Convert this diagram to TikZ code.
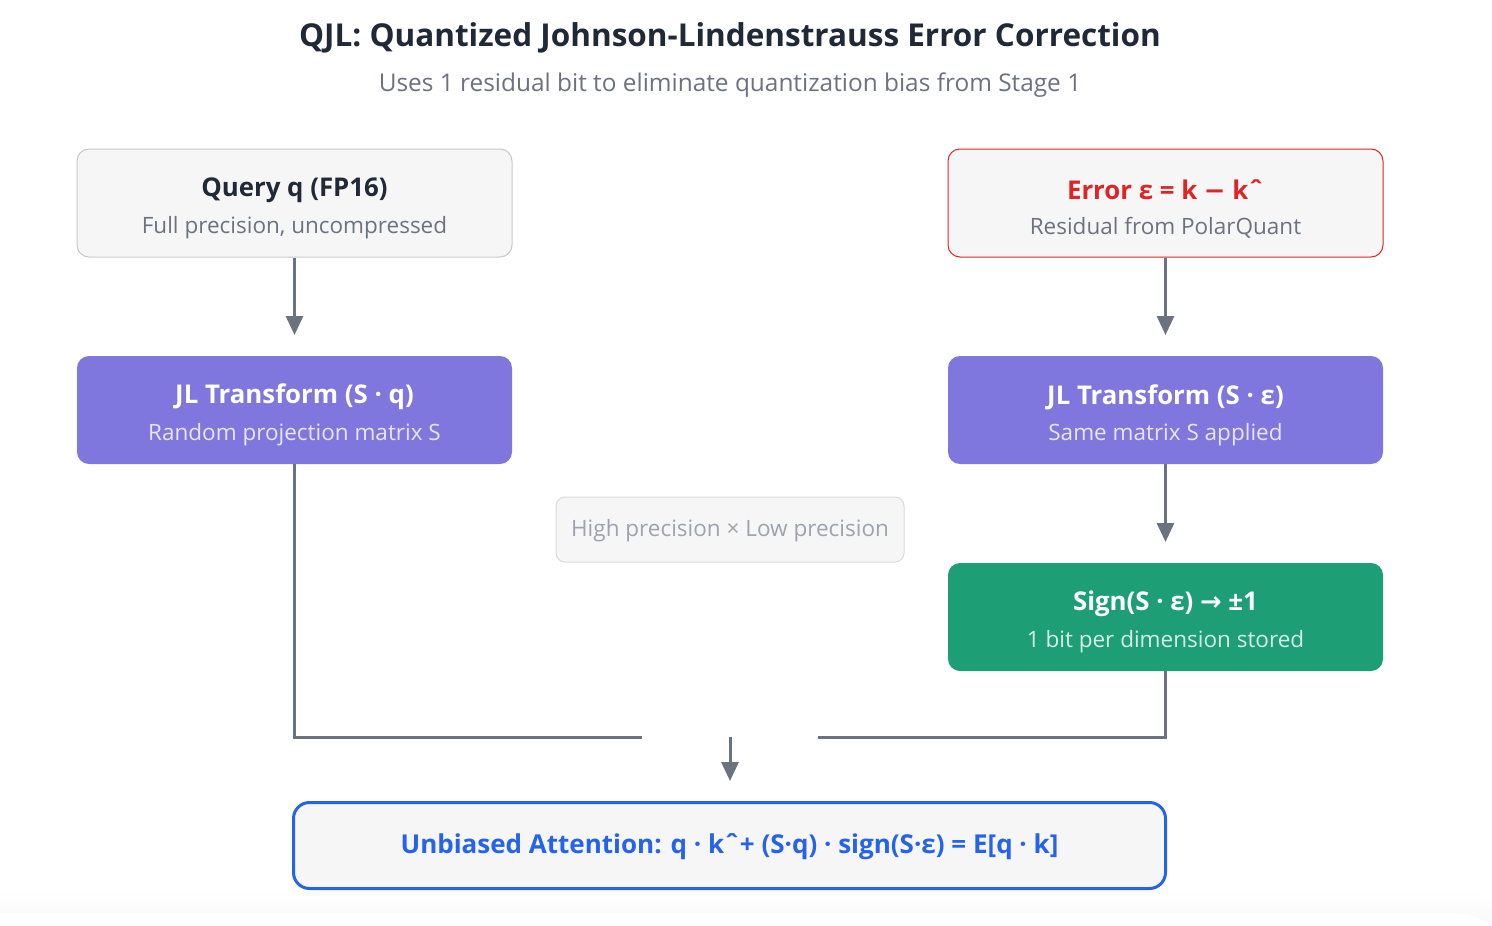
\documentclass[tikz,border=0pt]{standalone}
\usepackage{fontspec}
\setmainfont{Open Sans}
\newfontfamily\dv{DejaVu Sans}
\usetikzlibrary{arrows.meta}
\definecolor{boxfill}{HTML}{F6F6F6}
\definecolor{boxline}{HTML}{C9C9C9}
\definecolor{noteline}{HTML}{DADADA}
\definecolor{darktext}{HTML}{1F2937}
\definecolor{graytext}{HTML}{6B7280}
\definecolor{lighttext}{HTML}{9CA3AF}
\definecolor{purp}{HTML}{7F77DD}
\definecolor{purpsub}{HTML}{E8E6FA}
\definecolor{grn}{HTML}{1D9E75}
\definecolor{grnsub}{HTML}{D6F1E7}
\definecolor{redc}{HTML}{DC2626}
\definecolor{bluec}{HTML}{2563EB}
\definecolor{arrowc}{HTML}{6B7280}
\definecolor{band}{HTML}{F9F9F9}
\tikzset{
  box/.style={rectangle, rounded corners=12pt, minimum width=435pt, minimum height=108pt, inner sep=0pt},
  greybox/.style={box, fill=boxfill, draw=boxline, line width=1pt},
  redbox/.style={box, fill=boxfill, draw=redc, line width=1pt},
  purpbox/.style={box, fill=purp},
  grnbox/.style={box, fill=grn},
  ttl/.style={font=\bfseries\fontsize{25.8}{30}\selectfont, inner sep=0pt},
  sub/.style={font=\fontsize{22.5}{26}\selectfont, inner sep=0pt},
  conn/.style={draw=arrowc, line width=3pt},
  arr/.style={conn, -{Triangle[length=19pt,width=17pt]}},
}
\begin{document}
\begin{tikzpicture}[x=1pt,y=-1pt]
\useasboundingbox (0,0) rectangle (1492,926);
\fill[white] (0,0) rectangle (1492,926);
\shade[top color=white, bottom color=band] (0,889) -- (1455,889) .. controls (1475,890) and (1485,897) .. (1492,903) -- (1492,926) .. controls (1478,916) and (1466,913) .. (1450,913) -- (0,913) -- cycle;

% title
\node[font=\bfseries\fontsize{31.5}{36}\selectfont, text=darktext, inner sep=0pt] (title) at (730,38) {QJL: Quantized Johnson-Lindenstrauss Error Correction};
\node[font=\fontsize{24.4}{28}\selectfont, text=graytext, inner sep=0pt] (subtitle) at (730,85) {Uses 1 residual bit to eliminate quantization bias from Stage 1};

% boxes
\node[greybox] (q) at (294.5,203) {};
\node[ttl, text=darktext] (qt) at (294.5,190) {Query q (FP16)};
\node[sub, text=graytext] (qs) at (294.5,228) {Full precision, uncompressed};

\node[redbox] (e) at (1165.5,203) {};
\node[ttl, text=redc] (et) at (1165.5,190) {Error ε = k {\dv −} kˆ};
\node[sub, text=graytext] (es) at (1165.5,228) {Residual from PolarQuant};

\node[purpbox] (jq) at (294.5,410) {};
\node[ttl, text=white] (jqt) at (294.5,397) {JL Transform (S · q)};
\node[sub, text=purpsub] (jqs) at (294.5,435) {Random projection matrix S};

\node[purpbox] (je) at (1165.5,410) {};
\node[ttl, text=white] (jet) at (1165.5,397) {JL Transform (S · ε)};
\node[sub, text=purpsub] (jes) at (1165.5,435) {Same matrix S applied};

\node[grnbox] (sg) at (1165.5,617) {};
\node[ttl, text=white] (sgt) at (1165.5,604) {Sign(S · ε) {\dv\bfseries →} ±1};
\node[sub, text=grnsub] (sgs) at (1165.5,642) {1 bit per dimension stored};

\node[rectangle, rounded corners=9pt, fill=boxfill, draw=noteline, line width=1pt, minimum width=348pt, minimum height=65pt, inner sep=0pt] (note) at (730,529.5) {};
\node[sub, text=lighttext] (nt) at (730,531) {High precision × Low precision};

\node[rectangle, rounded corners=16pt, fill=boxfill, draw=bluec, line width=3pt, minimum width=872pt, minimum height=86pt, inner sep=0pt] (res) at (729.5,845.5) {};
\node[font=\bfseries\fontsize{26}{30}\selectfont, text=bluec, inner sep=0pt] (rt) at (729.5,847) {Unbiased Attention: q · kˆ+ (S·q) · sign(S·ε) = E[q · k]};

% connectors
\coordinate (a1) at (294.5,335);
\coordinate (a2) at (1165.5,335);
\coordinate (a3) at (1165.5,542);
\coordinate (lj) at (642,737);
\coordinate (rj) at (818,737);
\coordinate (mt) at (730,737);
\coordinate (mb) at (730,781);
\draw[arr] (q.south) -- (a1);
\draw[arr] (e.south) -- (a2);
\draw[arr] (je.south) -- (a3);
\draw[conn] (jq.south) |- (lj);
\draw[conn] (sg.south) |- (rj);
\draw[arr] (mt) -- (mb);
\end{tikzpicture}
\end{document}
